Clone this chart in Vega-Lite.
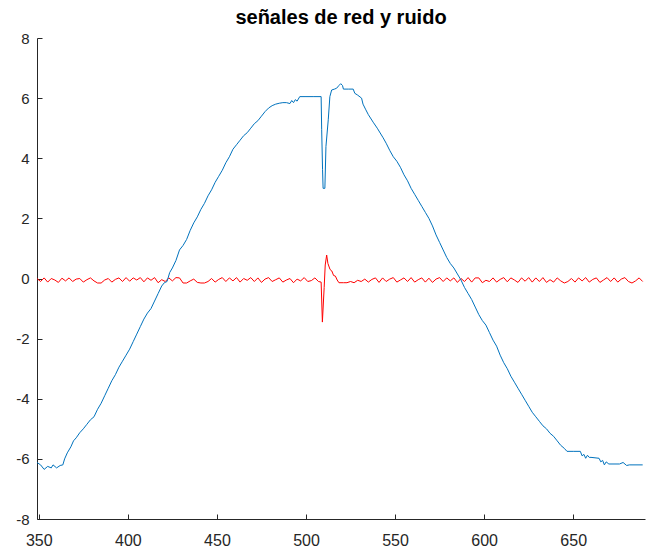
{
  "$schema": "https://vega.github.io/schema/vega-lite/v6.json",
  "width": 608,
  "height": 481,
  "autosize": {"type": "none"},
  "padding": {"left": 37, "top": 38, "right": 6, "bottom": 33},
  "background": "white",
  "title": {"text": "señales de red y ruido", "font": "Liberation Sans", "fontSize": 20, "fontWeight": "bold", "color": "#000000", "offset": 3, "anchor": "middle"},
  "config": {"view": {"stroke": null}},
  "datasets": {
    "ruido": [
      {"x":349,"y":0.0},{"x":351,"y":-0.1},{"x":353,"y":0.02},{"x":355,"y":-0.12},{"x":357,"y":0.0},{"x":359,"y":-0.05},{"x":361,"y":-0.13},{"x":363,"y":0.01},{"x":365,"y":-0.08},{"x":367,"y":0.02},{"x":369,"y":-0.1},{"x":371,"y":-0.02},{"x":373,"y":0.0},{"x":375,"y":-0.12},{"x":377,"y":-0.04},{"x":379,"y":0.02},{"x":381,"y":-0.08},{"x":383,"y":-0.15},{"x":385,"y":-0.15},{"x":387,"y":-0.05},{"x":389,"y":0.0},{"x":391,"y":-0.12},{"x":393,"y":-0.03},{"x":395,"y":0.02},{"x":397,"y":-0.1},{"x":399,"y":0.03},{"x":401,"y":-0.09},{"x":403,"y":0.02},{"x":405,"y":-0.05},{"x":407,"y":0.03},{"x":409,"y":-0.11},{"x":411,"y":0.02},{"x":413,"y":-0.06},{"x":415,"y":0.03},{"x":417,"y":-0.14},{"x":419,"y":-0.04},{"x":421,"y":-0.1},{"x":423,"y":0.02},{"x":425,"y":-0.08},{"x":427,"y":0.03},{"x":429,"y":0.02},{"x":431,"y":-0.15},{"x":433,"y":-0.15},{"x":435,"y":-0.08},{"x":437,"y":-0.02},{"x":439,"y":-0.13},{"x":441,"y":-0.15},{"x":443,"y":-0.15},{"x":445,"y":-0.1},{"x":447,"y":0.0},{"x":449,"y":-0.12},{"x":451,"y":-0.03},{"x":453,"y":0.03},{"x":455,"y":-0.1},{"x":457,"y":0.02},{"x":459,"y":-0.08},{"x":461,"y":0.03},{"x":463,"y":-0.12},{"x":465,"y":0.0},{"x":467,"y":-0.06},{"x":469,"y":0.03},{"x":471,"y":-0.1},{"x":473,"y":0.02},{"x":475,"y":-0.13},{"x":477,"y":-0.02},{"x":479,"y":0.03},{"x":481,"y":-0.1},{"x":483,"y":-0.04},{"x":485,"y":0.02},{"x":487,"y":-0.12},{"x":489,"y":-0.05},{"x":491,"y":0.0},{"x":493,"y":-0.14},{"x":495,"y":-0.02},{"x":497,"y":-0.08},{"x":499,"y":0.03},{"x":501,"y":-0.1},{"x":503,"y":-0.07},{"x":505,"y":0.02},{"x":507,"y":-0.1},{"x":508.5,"y":-0.12},{"x":509.2,"y":-1.45},{"x":510.2,"y":-0.3},{"x":510.8,"y":0.45},{"x":511.6,"y":0.78},{"x":512.3,"y":0.5},{"x":513.5,"y":0.3},{"x":514.5,"y":0.25},{"x":515.5,"y":0.1},{"x":516.5,"y":0.08},{"x":517.5,"y":-0.05},{"x":518.5,"y":-0.14},{"x":521,"y":-0.14},{"x":523,"y":-0.14},{"x":525,"y":-0.1},{"x":527,"y":-0.14},{"x":529,"y":-0.06},{"x":531,"y":-0.1},{"x":533,"y":-0.02},{"x":535,"y":-0.12},{"x":537,"y":-0.03},{"x":539,"y":0.02},{"x":541,"y":-0.13},{"x":543,"y":0.02},{"x":545,"y":-0.1},{"x":547,"y":-0.02},{"x":549,"y":0.03},{"x":551,"y":-0.12},{"x":553,"y":-0.05},{"x":555,"y":0.02},{"x":557,"y":-0.1},{"x":559,"y":0.03},{"x":561,"y":-0.12},{"x":563,"y":-0.04},{"x":565,"y":0.02},{"x":567,"y":-0.12},{"x":569,"y":0.01},{"x":571,"y":-0.13},{"x":573,"y":-0.02},{"x":575,"y":0.03},{"x":577,"y":-0.1},{"x":579,"y":0.02},{"x":581,"y":-0.08},{"x":583,"y":0.02},{"x":585,"y":-0.13},{"x":587,"y":0.0},{"x":589,"y":-0.1},{"x":591,"y":0.03},{"x":593,"y":-0.12},{"x":595,"y":0.02},{"x":597,"y":0.02},{"x":599,"y":-0.14},{"x":601,"y":-0.06},{"x":603,"y":-0.1},{"x":605,"y":0.02},{"x":607,"y":-0.12},{"x":609,"y":-0.03},{"x":611,"y":0.03},{"x":613,"y":-0.11},{"x":615,"y":0.02},{"x":617,"y":-0.05},{"x":619,"y":-0.13},{"x":621,"y":0.02},{"x":623,"y":-0.09},{"x":625,"y":0.03},{"x":627,"y":-0.12},{"x":629,"y":0.02},{"x":631,"y":-0.1},{"x":633,"y":0.03},{"x":635,"y":-0.13},{"x":637,"y":-0.04},{"x":639,"y":-0.12},{"x":641,"y":0.02},{"x":643,"y":-0.08},{"x":645,"y":-0.15},{"x":647,"y":-0.1},{"x":649,"y":0.0},{"x":651,"y":-0.12},{"x":653,"y":0.02},{"x":655,"y":-0.08},{"x":657,"y":0.03},{"x":659,"y":-0.12},{"x":661,"y":-0.03},{"x":663,"y":0.02},{"x":665,"y":-0.13},{"x":667,"y":-0.05},{"x":669,"y":0.03},{"x":671,"y":-0.1},{"x":673,"y":0.02},{"x":675,"y":-0.12},{"x":677,"y":-0.02},{"x":679,"y":0.03},{"x":681,"y":-0.1},{"x":683,"y":-0.15},{"x":685,"y":-0.08},{"x":687,"y":0.02},{"x":689,"y":-0.1}
    ],
    "red": [
      {"x":349,"y":-6.12},{"x":351,"y":-6.2},{"x":353,"y":-6.35},{"x":355,"y":-6.25},{"x":357,"y":-6.3},{"x":358,"y":-6.2},{"x":360,"y":-6.3},{"x":362,"y":-6.22},{"x":363.5,"y":-6.2},{"x":364.5,"y":-6.0},{"x":366,"y":-5.8},{"x":368,"y":-5.6},{"x":369.5,"y":-5.4},{"x":371,"y":-5.3},{"x":373,"y":-5.13},{"x":375,"y":-5.0},{"x":377,"y":-4.85},{"x":379,"y":-4.7},{"x":381,"y":-4.6},{"x":383,"y":-4.35},{"x":385,"y":-4.15},{"x":387,"y":-3.9},{"x":389,"y":-3.65},{"x":391,"y":-3.4},{"x":393,"y":-3.2},{"x":395,"y":-2.95},{"x":397,"y":-2.75},{"x":399,"y":-2.55},{"x":401,"y":-2.35},{"x":403,"y":-2.1},{"x":405,"y":-1.85},{"x":407,"y":-1.6},{"x":409,"y":-1.35},{"x":411,"y":-1.15},{"x":413,"y":-1.0},{"x":415,"y":-0.75},{"x":417,"y":-0.5},{"x":419,"y":-0.25},{"x":420.5,"y":-0.14},{"x":422,"y":-0.1},{"x":423.5,"y":0.2},{"x":425,"y":0.35},{"x":427,"y":0.6},{"x":429,"y":0.95},{"x":431,"y":1.1},{"x":433,"y":1.3},{"x":435,"y":1.6},{"x":437,"y":1.85},{"x":439,"y":2.05},{"x":441,"y":2.3},{"x":443,"y":2.5},{"x":445,"y":2.75},{"x":447,"y":2.95},{"x":449,"y":3.2},{"x":451,"y":3.4},{"x":453,"y":3.6},{"x":455,"y":3.85},{"x":457,"y":4.05},{"x":459,"y":4.3},{"x":461,"y":4.45},{"x":463,"y":4.6},{"x":465,"y":4.75},{"x":467,"y":4.85},{"x":469,"y":5.0},{"x":471,"y":5.15},{"x":473,"y":5.25},{"x":475,"y":5.4},{"x":477,"y":5.55},{"x":479,"y":5.67},{"x":481,"y":5.75},{"x":483,"y":5.8},{"x":485,"y":5.83},{"x":487,"y":5.85},{"x":489,"y":5.85},{"x":491,"y":5.82},{"x":492,"y":5.92},{"x":493,"y":5.85},{"x":494,"y":5.95},{"x":495,"y":5.9},{"x":496.5,"y":6.05},{"x":500,"y":6.05},{"x":504,"y":6.05},{"x":508.5,"y":6.05},{"x":508.8,"y":4.95},{"x":509.3,"y":3.62},{"x":509.6,"y":3.0},{"x":510.6,"y":3.0},{"x":511.2,"y":4.39},{"x":512.5,"y":5.28},{"x":513.4,"y":6.05},{"x":514.4,"y":6.27},{"x":516,"y":6.3},{"x":517.2,"y":6.33},{"x":518.5,"y":6.42},{"x":519.5,"y":6.48},{"x":520.5,"y":6.42},{"x":521,"y":6.3},{"x":524,"y":6.3},{"x":526.5,"y":6.3},{"x":527.4,"y":6.16},{"x":529,"y":6.1},{"x":531.2,"y":6.0},{"x":532,"y":5.8},{"x":533.6,"y":5.61},{"x":535,"y":5.45},{"x":537.7,"y":5.2},{"x":540,"y":5.0},{"x":543.3,"y":4.68},{"x":545,"y":4.5},{"x":547.1,"y":4.25},{"x":549,"y":4.05},{"x":551,"y":3.9},{"x":553,"y":3.7},{"x":555,"y":3.45},{"x":557,"y":3.25},{"x":559,"y":3.0},{"x":561,"y":2.8},{"x":563,"y":2.6},{"x":565,"y":2.4},{"x":567,"y":2.2},{"x":569,"y":2.0},{"x":571,"y":1.75},{"x":573,"y":1.45},{"x":575,"y":1.2},{"x":577,"y":0.95},{"x":579,"y":0.7},{"x":581,"y":0.5},{"x":583,"y":0.35},{"x":585,"y":0.15},{"x":587,"y":-0.05},{"x":589,"y":-0.3},{"x":591,"y":-0.5},{"x":593,"y":-0.7},{"x":595,"y":-0.95},{"x":597,"y":-1.2},{"x":599,"y":-1.4},{"x":601,"y":-1.55},{"x":603,"y":-1.8},{"x":605,"y":-2.05},{"x":607,"y":-2.25},{"x":609,"y":-2.55},{"x":611,"y":-2.8},{"x":613,"y":-3.0},{"x":615,"y":-3.25},{"x":617,"y":-3.45},{"x":619,"y":-3.65},{"x":621,"y":-3.85},{"x":623,"y":-4.05},{"x":625,"y":-4.25},{"x":627,"y":-4.45},{"x":629,"y":-4.6},{"x":631,"y":-4.75},{"x":633,"y":-4.9},{"x":635,"y":-5.0},{"x":637,"y":-5.15},{"x":639,"y":-5.25},{"x":641,"y":-5.4},{"x":643,"y":-5.55},{"x":645,"y":-5.65},{"x":646.5,"y":-5.75},{"x":650,"y":-5.75},{"x":654,"y":-5.75},{"x":655,"y":-5.9},{"x":656,"y":-5.85},{"x":657,"y":-5.98},{"x":658,"y":-5.88},{"x":659,"y":-5.95},{"x":660,"y":-5.95},{"x":664.5,"y":-5.98},{"x":665.5,"y":-6.1},{"x":666.5,"y":-6.05},{"x":667.5,"y":-6.2},{"x":668.5,"y":-6.1},{"x":670,"y":-6.17},{"x":676,"y":-6.17},{"x":678,"y":-6.12},{"x":680,"y":-6.22},{"x":681.5,"y":-6.2},{"x":689,"y":-6.2}
    ]
  },
  "encoding": {
    "x": {"field": "x", "type": "quantitative",
      "scale": {"domain": [349, 690.3], "nice": false, "zero": false},
      "axis": {"title": null, "values": [350,400,450,500,550,600,650], "grid": false,
        "domainColor": "#262626", "tickColor": "#262626", "tickSize": -5,
        "labelFont": "Liberation Sans", "labelFontSize": 16, "labelColor": "#262626", "labelPadding": 18}},
    "y": {"field": "y", "type": "quantitative",
      "scale": {"domain": [-8, 8], "nice": false, "zero": false},
      "axis": {"title": null, "values": [-8,-6,-4,-2,0,2,4,6,8], "grid": false,
        "labelExpr": "replace(datum.label, '−', '-')",
        "domainColor": "#262626", "tickColor": "#262626", "tickSize": -5,
        "labelFont": "Liberation Sans", "labelFontSize": 15, "labelColor": "#262626", "labelPadding": 13}}
  },
  "layer": [
    {"data": {"name": "ruido"}, "mark": {"type": "line", "color": "#FF0000", "strokeWidth": 1}},
    {"data": {"name": "red"}, "mark": {"type": "line", "color": "#0072BD", "strokeWidth": 1}}
  ]
}
